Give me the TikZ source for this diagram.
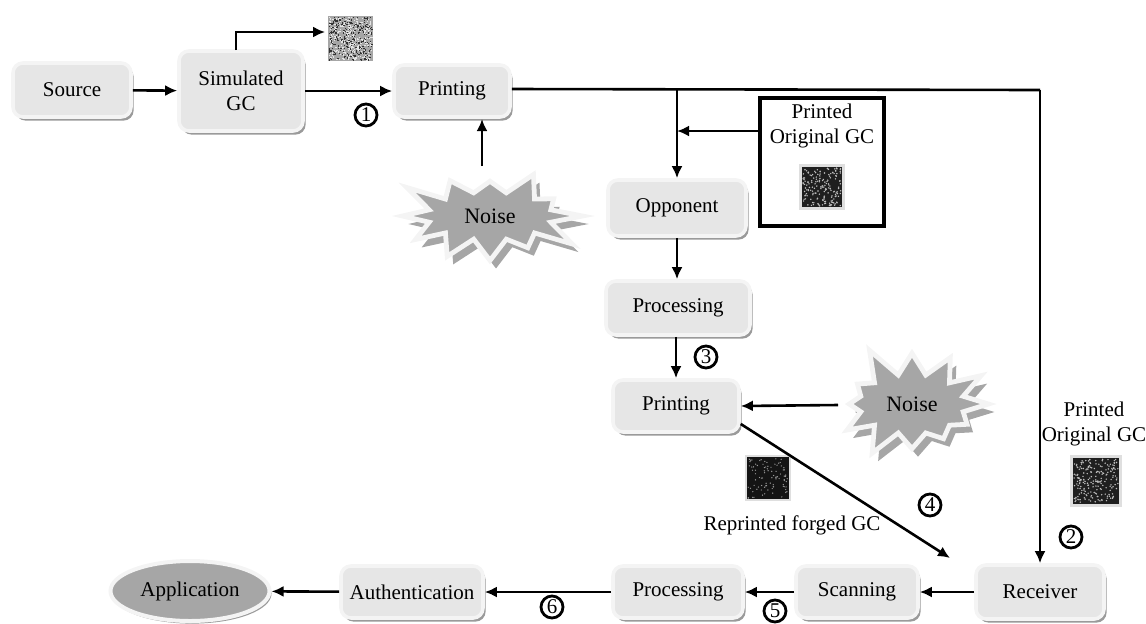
\documentclass[tikz,border=0pt]{standalone}
\usepackage{fontspec}
\setmainfont{Liberation Serif}
\usetikzlibrary{shapes.geometric,shapes.symbols,shadows,arrows.meta,calc}
\definecolor{boxfill}{HTML}{E6E6E6}
\definecolor{boxrim}{HTML}{F4F4F4}
\definecolor{shade}{HTML}{9A9A9A}
\definecolor{starfill}{HTML}{A6A6A6}
\begin{document}
\begin{tikzpicture}[x=0.5pt,y=-0.5pt,
  font=\fontsize{10.5}{12.5}\selectfont,
  box/.style={draw=boxrim, line width=1.8pt, fill=boxfill, rounded corners=5pt,
    align=center, inner sep=2pt,
    drop shadow={shadow xshift=1.3pt, shadow yshift=-1.8pt, fill=shade, opacity=1}},
  arr/.style={-{Latex[length=6pt,width=5.5pt]}, line width=1.3pt},
  num/.style={circle, draw, line width=1.4pt, inner sep=0.5pt, minimum size=11pt,
    font=\fontsize{10.5}{11}\selectfont},
  noise/.style={starburst, fill=starfill, draw=boxrim, line width=2.4pt,
    starburst points=12, starburst point height=17pt, inner sep=1pt,
    drop shadow={shadow xshift=3pt, shadow yshift=-4pt, fill=starfill, opacity=1},
    font=\fontsize{11}{13}\selectfont},
  img/.style={minimum size=#1, inner sep=0pt},
]
\useasboundingbox (0,0) rectangle (1146,623);

% main boxes
\node[box, minimum width=59pt, minimum height=27pt] (src) at (72,90) {Source};
\node[box, minimum width=62pt, minimum height=40pt] (sim) at (241,91) {Simulated\\GC};
\node[box, minimum width=58pt, minimum height=26pt] (pr1) at (452,91) {Printing};
\node[box, minimum width=69pt, minimum height=28pt] (opp) at (677,208) {Opponent};
\node[box, minimum width=72pt, minimum height=27pt] (proc1) at (678,308) {Processing};
\node[box, minimum width=63pt, minimum height=26pt] (pr2) at (676,406) {Printing};
\node[box, minimum width=64pt, minimum height=27pt] (recv) at (1040,592) {Receiver};
\node[box, minimum width=61pt, minimum height=26pt] (scan) at (857,592) {Scanning};
\node[box, minimum width=65pt, minimum height=26pt] (proc2) at (678,592) {Processing};
\node[box, minimum width=71pt, minimum height=26pt] (auth) at (412,592) {Authentication};
\node[ellipse, fill=starfill, draw=boxrim, line width=2pt, minimum width=79pt, minimum height=30pt,
  drop shadow={shadow xshift=1pt, shadow yshift=-1.3pt, fill=shade, opacity=1}] (app) at (190,591) {Application};

% noise stars
\node[noise, random starburst=3, minimum width=97pt, minimum height=58pt] (n1) at (490,216) {Noise};
\node[noise, random starburst=5, minimum width=87pt, minimum height=64pt] (n2) at (912,404) {Noise};

% noise images
\pgfmathsetseed{42}
\node[img=22.5pt, fill=gray!70] (gimg) at (350,38) {};
\foreach \i in {1,...,300}{
  \fill[white!90!black] ($(gimg.center)+(rand*21.5,rand*21.5)$) rectangle ++(1.2,1.2);
  \fill[black!80] ($(gimg.center)+(rand*21.5,rand*21.5)$) rectangle ++(1.2,1.2);
}
\node[img=23pt, fill=gray!25] (oimg) at (822,187) {};
\fill[black!88] ($(oimg.center)+(-20,-20)$) rectangle ($(oimg.center)+(20,20)$);
\foreach \i in {1,...,170}{
  \fill[white!75!black] ($(oimg.center)+(rand*19,rand*19)$) circle (0.8);
}
\node[img=26pt, fill=gray!25] (rimg) at (1096,481) {};
\fill[black!88] ($(rimg.center)+(-23,-23)$) rectangle ($(rimg.center)+(23,23)$);
\foreach \i in {1,...,200}{
  \fill[white!75!black] ($(rimg.center)+(rand*22,rand*22)$) circle (0.8);
}
\node[img=23pt, fill=gray!25] (fimg) at (768,478) {};
\fill[black!92] ($(fimg.center)+(-21,-21)$) rectangle ($(fimg.center)+(21,21)$);
\foreach \i in {1,...,90}{
  \fill[white!60!black] ($(fimg.center)+(rand*20,rand*20)$) circle (0.7);
}

% printed original GC box
\node[draw, line width=1.8pt, minimum width=62pt, minimum height=64pt] (pbox) at (822,162) {};
\node[align=center, inner sep=0pt] (ptxt) at (822,126) {Printed\\Original GC};
\node[align=center, inner sep=0pt] (rtxt) at (1094,424) {Printed\\Original GC};
\node[inner sep=0pt] (ftxt) at (792,525) {Reprinted forged GC};

% numbers
\node[num] (c1) at (366,115) {1};
\node[num] (c2) at (1071,537) {2};
\node[num] (c3) at (706,357) {3};
\node[num] (c4) at (930,505) {4};
\node[num] (c5) at (775,611) {5};
\node[num] (c6) at (552,607) {6};

% connectors
\draw[arr] (src) -- (sim);
\coordinate (gtop) at (236,50);
\draw[arr] (gtop) |- ([yshift=3pt,xshift=-1pt]gimg.west);
\draw[arr] (sim.east |- pr1.west) -- (pr1.west);
\coordinate (pa) at (482,119);
\coordinate (pb) at (482,166);
\draw[arr] (pb) -- (pa);
\coordinate (tr) at (1040,90);
\draw[line width=1.3pt] ([yshift=1pt]pr1.east) -- (tr);
\draw[arr] (tr) -- (recv.north);
\coordinate (br) at (677,89);
\draw[arr] (br) -- (opp.north);
\coordinate (j) at (677,131);
\draw[arr] (pbox.west |- j) -- (j);
\draw[arr] (opp) -- (proc1.north -| opp);
\draw[arr] (proc1.south -| pr2) -- (pr2.north);
\coordinate (nl) at (838,405);
\draw[arr] (nl) -- (pr2.east);
\coordinate (rd) at (950,558);
\draw[arr] ([yshift=-9pt]pr2.east) -- (rd);
\draw[arr] (recv) -- (scan);
\draw[arr] (scan) -- (proc2);
\draw[arr] (proc2) -- (auth);
\draw[arr] (auth) -- (app);
\end{tikzpicture}
\end{document}
